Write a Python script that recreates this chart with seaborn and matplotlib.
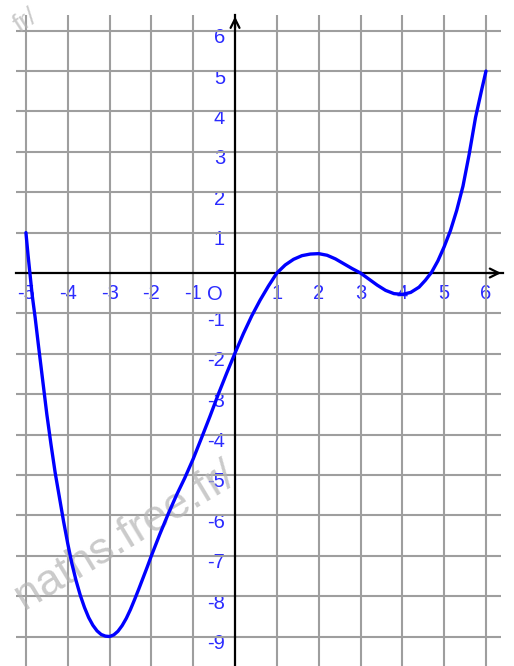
import numpy as np
import matplotlib
matplotlib.use("Agg")
import matplotlib.pyplot as plt
import seaborn as sns
from matplotlib.ticker import FixedLocator
from matplotlib.transforms import ScaledTranslation

sns.set_style("white")
plt.rcParams['font.family'] = ['Liberation Sans', 'DejaVu Sans']
plt.rcParams['axes.unicode_minus'] = False

# ---- data ----
curve_x = [-5.0, -4.95, -4.9, -4.85, -4.78, -4.7, -4.6, -4.5, -4.4, -4.3, -4.2, -4.1,
           -4.0, -3.9, -3.8, -3.7, -3.6, -3.5, -3.4, -3.3, -3.2, -3.1, -3.0, -2.9,
           -2.8, -2.7, -2.6, -2.5, -2.4, -2.3, -2.2, -2.1, -2.0, -1.8, -1.6, -1.4,
           -1.2, -1.0, -0.8, -0.6, -0.4, -0.2, 0.0, 0.2, 0.4, 0.6, 0.8, 1.0, 1.2,
           1.4, 1.6, 1.8, 2.0, 2.2, 2.4, 2.6, 2.8, 3.0, 3.2, 3.4, 3.6, 3.8, 4.0,
           4.2, 4.4, 4.55, 4.7, 4.85, 5.0, 5.15, 5.3, 5.45, 5.6, 5.75, 5.9, 6.0]
curve_y = [1.0, 0.45, -0.05, -0.55, -1.1, -1.8, -2.65, -3.5, -4.25, -4.95, -5.55, -6.15,
           -6.7, -7.2, -7.62, -7.98, -8.28, -8.53, -8.72, -8.86, -8.95, -8.99, -9.0, -8.96,
           -8.87, -8.73, -8.55, -8.33, -8.08, -7.82, -7.55, -7.28, -7.0, -6.47, -5.97, -5.5,
           -5.07, -4.6, -4.08, -3.55, -3.0, -2.48, -1.98, -1.5, -1.06, -0.67, -0.32, 0.0, 0.2,
           0.34, 0.43, 0.47, 0.48, 0.44, 0.35, 0.23, 0.11, 0.0, -0.15, -0.3, -0.43, -0.51, -0.53,
           -0.48, -0.35, -0.18, 0.02, 0.3, 0.65, 1.05, 1.55, 2.15, 2.95, 3.85, 4.55, 5.0]

x_ticks = [-5, -4, -3, -2, -1, 0, 1, 2, 3, 4, 5, 6]
x_labels = ['-5', '-4', '-3', '-2', '-1', '', '1', '2', '3', '4', '5', '6']
y_ticks = [-9, -8, -7, -6, -5, -4, -3, -2, -1, 0, 1, 2, 3, 4, 5, 6]
y_labels = ['-9', '-8', '-7', '-6', '-5', '-4', '-3', '-2', '-1', '', '1', '2', '3', '4', '5', '6']
origin_label = 'O'
watermark = 'naths.free.fr/'
watermark_top = 'fr/'

# ---- figure ----
fig = plt.figure(figsize=(5.14, 6.66), dpi=100)
ax = fig.add_axes([0, 0, 1, 1])
ax.set_xlim(-5.62, 6.67)
ax.set_ylim(-9.73, 6.76)

grid_col = '#9e9e9e'
ax.vlines([t for t in x_ticks if t != 0], ymin=-9.73, ymax=6.39, color=grid_col, lw=1.5, zorder=1)
ax.hlines([t for t in y_ticks if t != 0], xmin=-5.24, xmax=6.36, color=grid_col, lw=1.5, zorder=1)

# watermark
ax.text(-5.05, -8.35, watermark, rotation=31, rotation_mode='anchor', fontsize=32,
        color='#b4b4b4', alpha=0.7, ha='left', va='baseline', zorder=2)
ax.text(-5.15, 5.95, watermark_top, rotation=33, rotation_mode='anchor', fontsize=19,
        color='#b4b4b4', alpha=0.7, ha='left', va='baseline', zorder=2)

# curve
sns.lineplot(x=curve_x, y=curve_y, sort=False, estimator=None, color='#0000ff',
             lw=2.4, ax=ax, zorder=5)

# axes through origin
for s in ['top', 'right']:
    ax.spines[s].set_visible(False)
ax.spines['left'].set_position(('data', 0))
ax.spines['bottom'].set_position(('data', 0))
ax.spines['left'].set_bounds(-9.73, 6.39)
ax.spines['bottom'].set_bounds(-5.24, 6.41)
for s in ['left', 'bottom']:
    ax.spines[s].set_color('black')
    ax.spines[s].set_linewidth(1.6)
    ax.spines[s].set_zorder(4)

ax.set_xticks(x_ticks)
ax.set_xticklabels(x_labels)
ax.set_yticks(y_ticks)
ax.set_yticklabels(y_labels)
ax.xaxis.set_minor_locator(FixedLocator(np.round(np.arange(-5.2, 6.21, 0.2), 2)))
ax.yaxis.set_minor_locator(FixedLocator(np.round(np.arange(-9.6, 6.21, 0.2), 2)))
ax.tick_params(which='major', direction='inout', length=9.5, width=1.6, color='black',
               labelsize=14.5, labelcolor='#2b2bff')
ax.tick_params(which='minor', direction='inout', length=4.5, width=1.5, color='black')
ax.tick_params(axis='x', which='major', pad=3)
ax.tick_params(axis='y', which='major', pad=2.5)
off = ScaledTranslation(0, -5 / 100, fig.dpi_scale_trans)
for lab in ax.get_yticklabels():
    lab.set_transform(lab.get_transform() + off)
ax.text(-0.48, -0.3, origin_label, ha='center', va='top', fontsize=14.5, color='#2b2bff')

# arrows
ax.annotate('', xy=(0, 6.42), xytext=(0, 6.0),
            arrowprops=dict(arrowstyle='->', lw=1.6, color='black', mutation_scale=16))
ax.annotate('', xy=(6.43, 0), xytext=(6.0, 0),
            arrowprops=dict(arrowstyle='->', lw=1.6, color='black', mutation_scale=16))

fig.savefig('out.png', dpi=100)
